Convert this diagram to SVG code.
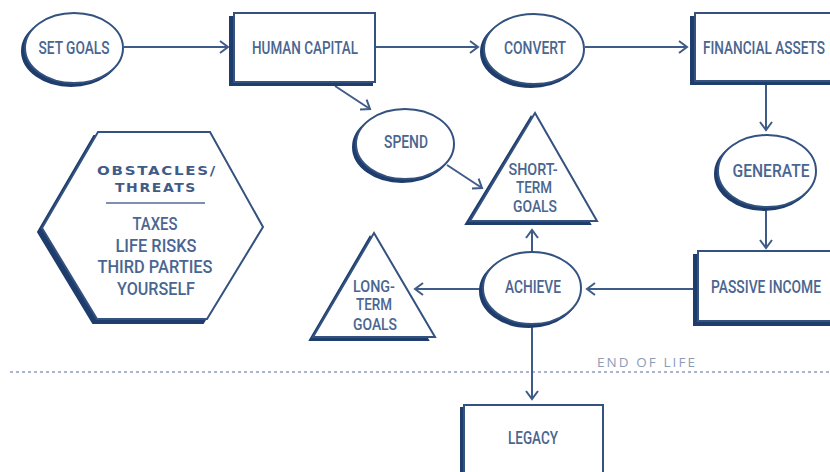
<svg xmlns="http://www.w3.org/2000/svg" width="830" height="472" viewBox="0 0 830 472">
<style>
.main{fill:#fff;stroke:#34527f;stroke-width:2}
.sh{fill:#1f3d6c;stroke:#1f3d6c;stroke-width:2}
.lbl{font-family:Roboto,"DejaVu Sans",sans-serif;font-weight:500;font-size:18px;fill:#4a6690;text-anchor:middle}
.tri{font-size:16.5px}
.hdr{font-family:"DejaVu Sans",Roboto,sans-serif;font-weight:bold;font-size:13px;fill:#3f5b87;text-anchor:middle}
.con{stroke:#3f5b87;stroke-width:2;fill:none}
</style>
<defs>
<marker id="arr" markerUnits="userSpaceOnUse" markerWidth="12" markerHeight="14" refX="9" refY="7" orient="auto">
<path d="M1,1 L9,7 L1,13" fill="none" stroke="#3f5b87" stroke-width="2"/>
</marker>
</defs>
<rect width="830" height="472" fill="#fff"/>

<g id="end-of-life">
<line x1="10" y1="372" x2="830" y2="372" stroke="#a9b5ca" stroke-width="2" stroke-dasharray="3,3"/>
<text x="647" y="367" font-family="'Open Sans','DejaVu Sans',sans-serif" font-size="13" fill="#8d9cb6" text-anchor="middle" letter-spacing="2" textLength="100" lengthAdjust="spacingAndGlyphs">END OF LIFE</text>
</g>

<g id="connectors">
<line class="con" x1="124" y1="47" x2="228" y2="47" marker-end="url(#arr)"/>
<line class="con" x1="375" y1="47" x2="478" y2="47" marker-end="url(#arr)"/>
<line class="con" x1="585" y1="47" x2="687" y2="47" marker-end="url(#arr)"/>
<line class="con" x1="766" y1="84" x2="766" y2="130" marker-end="url(#arr)"/>
<line class="con" x1="766" y1="208" x2="766" y2="248" marker-end="url(#arr)"/>
<line class="con" x1="695" y1="289" x2="587" y2="289" marker-end="url(#arr)"/>
<line class="con" x1="532" y1="252" x2="532" y2="230" marker-end="url(#arr)"/>
<line class="con" x1="483" y1="289" x2="415" y2="289" marker-end="url(#arr)"/>
<line class="con" x1="532" y1="324" x2="532" y2="399" marker-end="url(#arr)"/>
<line class="con" x1="335" y1="86" x2="370" y2="109" marker-end="url(#arr)"/>
<line class="con" x1="447" y1="165" x2="482" y2="188" marker-end="url(#arr)"/>
</g>

<g id="set-goals">
<ellipse class="sh" cx="71" cy="51" rx="49" ry="35"/>
<ellipse class="main" cx="74" cy="48" rx="49" ry="35"/>
<text class="lbl" x="74" y="54" textLength="71" lengthAdjust="spacingAndGlyphs">SET GOALS</text>
</g>

<g id="human-capital">
<rect class="sh" x="230" y="17" width="142" height="68"/>
<rect class="main" x="234" y="13" width="141" height="69"/>
<text class="lbl" x="305" y="54" textLength="106" lengthAdjust="spacingAndGlyphs">HUMAN CAPITAL</text>
</g>

<g id="convert">
<ellipse class="sh" cx="531" cy="52" rx="50" ry="35"/>
<ellipse class="main" cx="534" cy="49" rx="50" ry="35"/>
<text class="lbl" x="535" y="54" textLength="62" lengthAdjust="spacingAndGlyphs">CONVERT</text>
</g>

<g id="financial-assets">
<rect class="sh" x="691" y="17" width="150" height="67"/>
<rect class="main" x="695" y="13" width="150" height="68"/>
<text class="lbl" x="764" y="54" textLength="122" lengthAdjust="spacingAndGlyphs">FINANCIAL ASSETS</text>
</g>

<g id="generate">
<ellipse class="sh" cx="764" cy="174" rx="49" ry="36"/>
<ellipse class="main" cx="767" cy="171" rx="49" ry="36"/>
<text class="lbl" x="771" y="177" textLength="77" lengthAdjust="spacingAndGlyphs">GENERATE</text>
</g>

<g id="passive-income">
<rect class="sh" x="694" y="255" width="150" height="70"/>
<rect class="main" x="698" y="251" width="150" height="70"/>
<text class="lbl" x="766" y="293" textLength="110" lengthAdjust="spacingAndGlyphs">PASSIVE INCOME</text>
</g>

<g id="achieve">
<ellipse class="sh" cx="529" cy="291" rx="49" ry="36"/>
<ellipse class="main" cx="532" cy="288" rx="49" ry="36"/>
<text class="lbl" x="533" y="293" textLength="56" lengthAdjust="spacingAndGlyphs">ACHIEVE</text>
</g>

<g id="legacy">
<rect class="sh" x="461" y="408" width="140" height="80"/>
<rect class="main" x="464" y="405" width="139" height="80"/>
<text class="lbl" x="533" y="444" textLength="50" lengthAdjust="spacingAndGlyphs">LEGACY</text>
</g>

<g id="spend">
<ellipse class="sh" cx="402" cy="147" rx="49" ry="35"/>
<ellipse class="main" cx="405" cy="144" rx="49" ry="35"/>
<text class="lbl" x="406" y="148" textLength="44" lengthAdjust="spacingAndGlyphs">SPEND</text>
</g>

<g id="short-term-goals">
<polygon class="sh" points="531,117 466,224 590,224"/>
<polygon class="main" points="535,113 470,221 597,221"/>
<text class="lbl tri" x="533" y="175" textLength="49" lengthAdjust="spacingAndGlyphs">SHORT-</text>
<text class="lbl tri" x="534" y="193" textLength="36" lengthAdjust="spacingAndGlyphs">TERM</text>
<text class="lbl tri" x="535" y="212" textLength="44" lengthAdjust="spacingAndGlyphs">GOALS</text>
</g>

<g id="long-term-goals">
<polygon class="sh" points="370,237 310,340 428,340"/>
<polygon class="main" points="374,233 313,337 435,337"/>
<text class="lbl tri" x="374" y="292" textLength="42" lengthAdjust="spacingAndGlyphs">LONG-</text>
<text class="lbl tri" x="374" y="310" textLength="36" lengthAdjust="spacingAndGlyphs">TERM</text>
<text class="lbl tri" x="375" y="330" textLength="44" lengthAdjust="spacingAndGlyphs">GOALS</text>
</g>

<g id="obstacles-threats">
<polygon class="sh" points="94,136 38,232 93,323 203,323 259,232 206,136"/>
<polygon class="main" points="98,132 42,228 97,319 207,319 263,227 210,132"/>
<text class="hdr" x="157" y="175" letter-spacing="1.5" textLength="120" lengthAdjust="spacingAndGlyphs">OBSTACLES/</text>
<text class="hdr" x="156" y="192" letter-spacing="1.5" textLength="82" lengthAdjust="spacingAndGlyphs">THREATS</text>
<line x1="106" y1="203" x2="205" y2="203" stroke="#7d90b0" stroke-width="2"/>
<text class="lbl" x="155" y="230" textLength="45" lengthAdjust="spacingAndGlyphs">TAXES</text>
<text class="lbl" x="156" y="252" textLength="81" lengthAdjust="spacingAndGlyphs">LIFE RISKS</text>
<text class="lbl" x="155" y="273" textLength="115" lengthAdjust="spacingAndGlyphs">THIRD PARTIES</text>
<text class="lbl" x="156" y="295" textLength="78" lengthAdjust="spacingAndGlyphs">YOURSELF</text>
</g>
</svg>
